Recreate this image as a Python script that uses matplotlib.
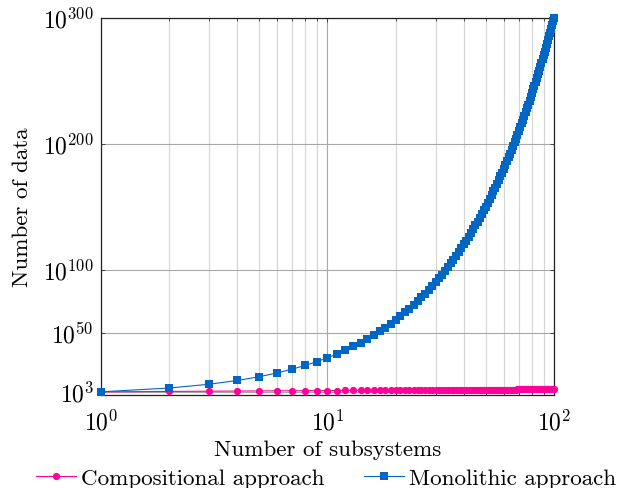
import matplotlib
matplotlib.use("Agg")
import matplotlib.pyplot as plt
from matplotlib.ticker import FixedLocator, FixedFormatter, NullFormatter, NullLocator

plt.rcParams['font.family'] = 'serif'
plt.rcParams['font.serif'] = ['cmr10']
plt.rcParams['mathtext.fontset'] = 'cm'
plt.rcParams['axes.formatter.use_mathtext'] = True
plt.rcParams['path.simplify'] = False

subsystems = [1, 2, 3, 4, 5, 6, 7, 8, 9, 10,
              11, 12, 13, 14, 15, 16, 17, 18, 19, 20,
              21, 22, 23, 24, 25, 26, 27, 28, 29, 30,
              31, 32, 33, 34, 35, 36, 37, 38, 39, 40,
              41, 42, 43, 44, 45, 46, 47, 48, 49, 50,
              51, 52, 53, 54, 55, 56, 57, 58, 59, 60,
              61, 62, 63, 64, 65, 66, 67, 68, 69, 70,
              71, 72, 73, 74, 75, 76, 77, 78, 79, 80,
              81, 82, 83, 84, 85, 86, 87, 88, 89, 90,
              91, 92, 93, 94, 95, 96, 97, 98, 99, 100]

compositional = [1e3, 2e3, 3e3, 4e3, 5e3, 6e3, 7e3, 8e3, 9e3, 10e3,
                 11e3, 12e3, 13e3, 14e3, 15e3, 16e3, 17e3, 18e3, 19e3, 20e3,
                 21e3, 22e3, 23e3, 24e3, 25e3, 26e3, 27e3, 28e3, 29e3, 30e3,
                 31e3, 32e3, 33e3, 34e3, 35e3, 36e3, 37e3, 38e3, 39e3, 40e3,
                 41e3, 42e3, 43e3, 44e3, 45e3, 46e3, 47e3, 48e3, 49e3, 50e3,
                 51e3, 52e3, 53e3, 54e3, 55e3, 56e3, 57e3, 58e3, 59e3, 60e3,
                 61e3, 62e3, 63e3, 64e3, 65e3, 66e3, 67e3, 68e3, 69e3, 70e3,
                 71e3, 72e3, 73e3, 74e3, 75e3, 76e3, 77e3, 78e3, 79e3, 80e3,
                 81e3, 82e3, 83e3, 84e3, 85e3, 86e3, 87e3, 88e3, 89e3, 90e3,
                 91e3, 92e3, 93e3, 94e3, 95e3, 96e3, 97e3, 98e3, 99e3, 100e3]

monolithic = [1e3, 1e6, 1e9, 1e12, 1e15, 1e18, 1e21, 1e24, 1e27, 1e30,
              1e33, 1e36, 1e39, 1e42, 1e45, 1e48, 1e51, 1e54, 1e57, 1e60,
              1e63, 1e66, 1e69, 1e72, 1e75, 1e78, 1e81, 1e84, 1e87, 1e90,
              1e93, 1e96, 1e99, 1e102, 1e105, 1e108, 1e111, 1e114, 1e117, 1e120,
              1e123, 1e126, 1e129, 1e132, 1e135, 1e138, 1e141, 1e144, 1e147, 1e150,
              1e153, 1e156, 1e159, 1e162, 1e165, 1e168, 1e171, 1e174, 1e177, 1e180,
              1e183, 1e186, 1e189, 1e192, 1e195, 1e198, 1e201, 1e204, 1e207, 1e210,
              1e213, 1e216, 1e219, 1e222, 1e225, 1e228, 1e231, 1e234, 1e237, 1e240,
              1e243, 1e246, 1e249, 1e252, 1e255, 1e258, 1e261, 1e264, 1e267, 1e270,
              1e273, 1e276, 1e279, 1e282, 1e285, 1e288, 1e291, 1e294, 1e297, 1e300]

y_ticks = [1e3, 1e50, 1e100, 1e200, 1e300]
y_tick_labels = [r'$10^{3}$', r'$10^{50}$', r'$10^{100}$', r'$10^{200}$', r'$10^{300}$']
x_ticks = [1, 10, 100]
x_tick_labels = [r'$10^{0}$', r'$10^{1}$', r'$10^{2}$']

pink = '#FF0099'
blue = '#0066C4'

fig = plt.figure(figsize=(6.19, 4.89), dpi=100)
ax = fig.add_axes([0.163, 0.19, 0.732, 0.772])

ax.plot(subsystems, compositional, color=pink, lw=0.8, marker='o', markersize=5.2,
        markeredgewidth=0, label='Compositional approach', zorder=3, clip_on=False,
        snap=False)
ax.plot(subsystems, monolithic, color=blue, lw=0.8, marker='s', markersize=5.2,
        markeredgewidth=0, label='Monolithic approach', zorder=4, clip_on=False,
        snap=False)

ax.set_xscale('log')
ax.set_yscale('log')
ax.set_xlim(1, 100)
ax.set_ylim(10 ** 0.4, 1e300)

ax.yaxis.set_major_locator(FixedLocator(y_ticks))
ax.yaxis.set_major_formatter(FixedFormatter(y_tick_labels))
ax.yaxis.set_minor_locator(NullLocator())
ax.xaxis.set_major_locator(FixedLocator(x_ticks))
ax.xaxis.set_major_formatter(FixedFormatter(x_tick_labels))
ax.xaxis.set_minor_locator(FixedLocator([2, 3, 4, 5, 6, 7, 8, 9, 20, 30, 40, 50, 60, 70, 80, 90]))
ax.xaxis.set_minor_formatter(NullFormatter())

ax.grid(True, which='major', color='#a8a8a8', lw=0.8)
ax.grid(True, which='minor', axis='x', color='#d4d4d4', lw=0.8)
ax.set_axisbelow(True)

ax.tick_params(axis='both', which='both', direction='in', top=True, right=True,
               labelsize=17, length=3, width=0.6, color='#333333')
ax.tick_params(axis='x', which='major', pad=10)
ax.tick_params(axis='y', which='major', pad=5)
ax.tick_params(axis='x', which='minor', length=2)
for s in ax.spines.values():
    s.set_linewidth(0.9)
    s.set_color('#222222')

ax.set_xlabel('Number of subsystems', fontsize=16.6, labelpad=4)
ax.set_ylabel('Number of data', fontsize=16.6, labelpad=8)

fig.legend(loc='lower center', ncol=2, frameon=False, fontsize=16.6,
           bbox_to_anchor=(0.527, -0.043), columnspacing=1.69, handlelength=1.73,
           handletextpad=0.22)

fig.savefig('out.png', dpi=100)
